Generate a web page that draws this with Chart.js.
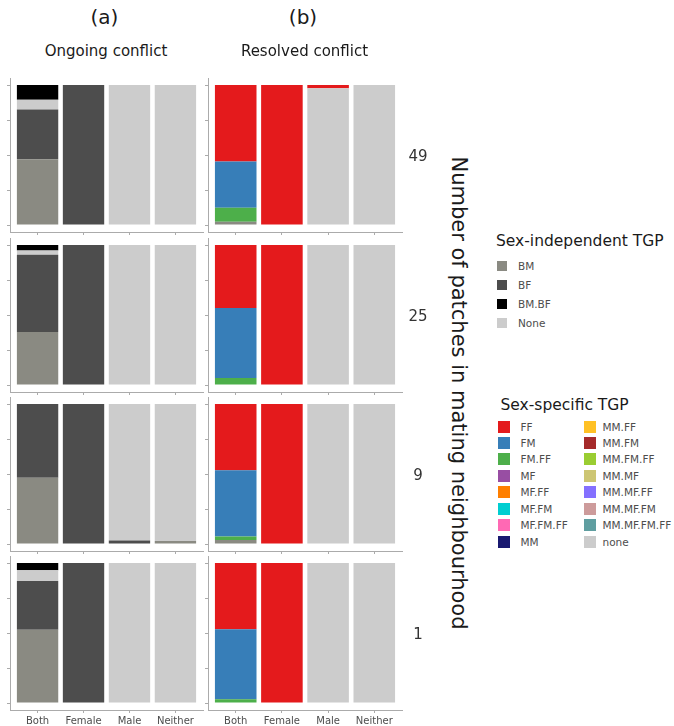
<!DOCTYPE html>
<html><head><meta charset="utf-8">
<script src="https://cdn.jsdelivr.net/npm/chart.js@4"></script>
<style>
body{margin:0;background:#fff;width:674px;height:726px;position:relative;overflow:hidden;font-family:"DejaVu Sans",Verdana,sans-serif;}
.t{position:absolute;white-space:nowrap;line-height:1;}
.c{transform:translate(-50%,-50%);}
.l{transform:translate(0,-50%);}
canvas{position:absolute;}
.sw{position:absolute;}
</style></head><body>
<script>
// ---------- data ----------
const categories = ["Both", "Female", "Male", "Neither"];
const neighbourhoodSizes = ["49", "25", "9", "1"];
const panelLetters = ["(a)", "(b)"];
const panelTitles = ["Ongoing conflict", "Resolved conflict"];
const yAxisTitle = "Number of patches in mating neighbourhood";
const yTicks = [0, 0.25, 0.5, 0.75, 1];

const independentTitle = "Sex-independent TGP";
const independentTypes = ["BM", "BF", "BM.BF", "None"];
const independentColors = ["#8a8a82", "#4d4d4d", "#000000", "#cccccc"];

const specificTitle = "Sex-specific TGP";
const specificTypes = ["FF", "FM", "FM.FF", "MF", "MF.FF", "MF.FM", "MF.FM.FF", "MM",
  "MM.FF", "MM.FM", "MM.FM.FF", "MM.MF", "MM.MF.FF", "MM.MF.FM", "MM.MF.FM.FF", "none"];
const specificColors = ["#e41a1c", "#377eb8", "#4daf4a", "#984ea3", "#ff7f00", "#00ced1", "#ff69b4", "#191970",
  "#ffc125", "#a52a2a", "#9acd32", "#cdc673", "#8470ff", "#cd9b9b", "#5f9ea0", "#cccccc"];

// stacking order, bottom to top
const ongoingStack = ["BM", "BF", "None", "BM.BF"];
const resolvedStack = ["BM", "none", "FM.FF", "FM", "FF"];

// proportions per category [Both, Female, Male, Neither]
const ongoing49 = { "BM": [0.47, 0, 0, 0], "BF": [0.355, 1, 0, 0], "None": [0.07, 0, 1, 1], "BM.BF": [0.105, 0, 0, 0] };
const ongoing25 = { "BM": [0.378, 0, 0, 0], "BF": [0.552, 1, 0, 0], "None": [0.03, 0, 1, 1], "BM.BF": [0.04, 0, 0, 0] };
const ongoing9  = { "BM": [0.474, 0, 0, 0.022], "BF": [0.526, 1, 0.025, 0], "None": [0, 0, 0.975, 0.978], "BM.BF": [0, 0, 0, 0] };
const ongoing1  = { "BM": [0.524, 0, 0, 0], "BF": [0.348, 1, 0, 0], "None": [0.076, 0, 1, 1], "BM.BF": [0.052, 0, 0, 0] };

const resolved49 = { "BM": [0.024, 0, 0, 0], "none": [0, 0, 0.976, 1], "FM.FF": [0.10, 0, 0, 0], "FM": [0.329, 0, 0, 0], "FF": [0.547, 1, 0.024, 0] };
const resolved25 = { "BM": [0, 0, 0, 0], "none": [0, 0, 1, 1], "FM.FF": [0.05, 0, 0, 0], "FM": [0.50, 0, 0, 0], "FF": [0.45, 1, 0, 0] };
const resolved9  = { "BM": [0.029, 0, 0, 0], "none": [0, 0, 1, 1], "FM.FF": [0.024, 0, 0, 0], "FM": [0.474, 0, 0, 0], "FF": [0.473, 1, 0, 0] };
const resolved1  = { "BM": [0, 0, 0, 0], "none": [0, 0, 1, 1], "FM.FF": [0.026, 0, 0, 0], "FM": [0.50, 0, 0, 0], "FF": [0.474, 1, 0, 0] };

// ---------- layout ----------
const FONT = '"DejaVu Sans", Verdana, sans-serif';
const colPlotLeft = [10, 207.5];
const colPlotRight = [203, 401];
const rowPlotTop = [78, 238, 397, 556];
const plotH = 154;
const axisColor = "#ababab";

function addText(txt, x, y, size, color, cls, extra) {
  const d = document.createElement("div");
  d.className = "t " + cls;
  d.textContent = txt;
  d.style.left = x + "px"; d.style.top = y + "px";
  d.style.fontSize = size + "px"; d.style.color = color;
  if (extra) Object.assign(d.style, extra);
  document.body.appendChild(d);
  return d;
}

const panels = [
  [ongoing49, ongoing25, ongoing9, ongoing1],
  [resolved49, resolved25, resolved9, resolved1]
];
const stacks = [ongoingStack, resolvedStack];
const colorOf = (name) => {
  let i = independentTypes.indexOf(name);
  if (i >= 0) return independentColors[i];
  i = specificTypes.indexOf(name);
  return specificColors[i];
};

for (let c = 0; c < 2; c++) {
  for (let r = 0; r < 4; r++) {
    const bottom = r === 3;
    const xAxisH = bottom ? 20 : 5;
    const padTop = 3, padRight = 3, yAxisW = 6;
    const plotW = colPlotRight[c] - colPlotLeft[c];
    const cv = document.createElement("canvas");
    const W = Math.round(plotW + yAxisW + padRight);
    const H = plotH + padTop + xAxisH;
    cv.width = W; cv.height = H;
    cv.style.width = W + "px"; cv.style.height = H + "px";
    cv.style.left = (colPlotLeft[c] - yAxisW) + "px";
    cv.style.top = (rowPlotTop[r] - padTop) + "px";
    document.body.appendChild(cv);
    const values = panels[c][r];
    const datasets = stacks[c].map(name => ({
      label: name,
      data: values[name].map((v, i) => ({ x: i + 1, y: v })),
      backgroundColor: colorOf(name),
      borderWidth: 0,
      categoryPercentage: 1,
      barPercentage: 0.9
    }));
    new Chart(cv, {
      type: "bar",
      data: { datasets },
      options: {
        responsive: false, animation: false, devicePixelRatio: 1,
        layout: { padding: { left: 0, right: padRight, top: padTop, bottom: 0 } },
        plugins: { legend: { display: false }, tooltip: { enabled: false } },
        scales: {
          x: {
            type: "linear", min: 0.4, max: 4.6, stacked: true, offset: false,
            afterBuildTicks: (s) => { s.ticks = categories.map((_, i) => ({ value: i + 1 })); },
            afterFit: (s) => { s.height = xAxisH; },
            grid: { display: true, offset: false, drawOnChartArea: false, drawTicks: true, tickLength: 3, color: axisColor },
            border: { display: true, color: axisColor, width: 1 },
            ticks: {
              display: bottom, autoSkip: false, maxRotation: 0, padding: 2,
              callback: (v) => categories[v - 1],
              font: { size: 10, family: FONT }, color: "#4d4d4d"
            }
          },
          y: {
            min: -0.05, max: 1.05, stacked: true,
            afterBuildTicks: (s) => { s.ticks = yTicks.map(v => ({ value: v })); },
            afterFit: (s) => { s.width = yAxisW; },
            grid: { display: true, drawOnChartArea: false, drawTicks: true, tickLength: 3, color: axisColor },
            border: { display: true, color: axisColor, width: 1 },
            ticks: { display: false }
          }
        }
      }
    });
  }
}

// column headers
const colCenters = [104.5, 303];
for (let c = 0; c < 2; c++) {
  addText(panelLetters[c], colCenters[c], 17, 20, "#1a1a1a", "c");
  addText(panelTitles[c], colCenters[c] + 1.5, 51, 15, "#1a1a1a", "c");
}
// row labels
for (let r = 0; r < 4; r++) {
  addText(neighbourhoodSizes[r], 418, rowPlotTop[r] + plotH / 2 + 1, 15, "#333", "c");
}
// y-axis title (rotated)
addText(yAxisTitle, 458, 393, 21, "#1a1a1a", "c", { transform: "translate(-50%,-50%) rotate(90deg)" });

// legend 1
addText(independentTitle, 496, 242, 15.5, "#1a1a1a", "l");
const leg1Y = [265.5, 284.5, 303.5, 322.5];
independentTypes.forEach((name, i) => {
  const s = document.createElement("div");
  s.className = "sw";
  Object.assign(s.style, { left: "497px", top: (leg1Y[i] - 5) + "px", width: "10px", height: "10px", background: independentColors[i] });
  document.body.appendChild(s);
  addText(name, 518, leg1Y[i], 10.5, "#4d4d4d", "l");
});

// legend 2
addText(specificTitle, 500.5, 405.5, 15.5, "#1a1a1a", "l");
specificTypes.forEach((name, i) => {
  const col = Math.floor(i / 8), row = i % 8;
  const y = 426.5 + row * 16.45;
  const sx = col === 0 ? 498 : 584;
  const lx = col === 0 ? 520.5 : 602.5;
  const s = document.createElement("div");
  s.className = "sw";
  Object.assign(s.style, { left: sx + "px", top: (y - 6) + "px", width: "12px", height: "12px", background: specificColors[i] });
  document.body.appendChild(s);
  addText(name, lx, y, 10.5, "#4d4d4d", "l");
});
</script>
</body></html>
